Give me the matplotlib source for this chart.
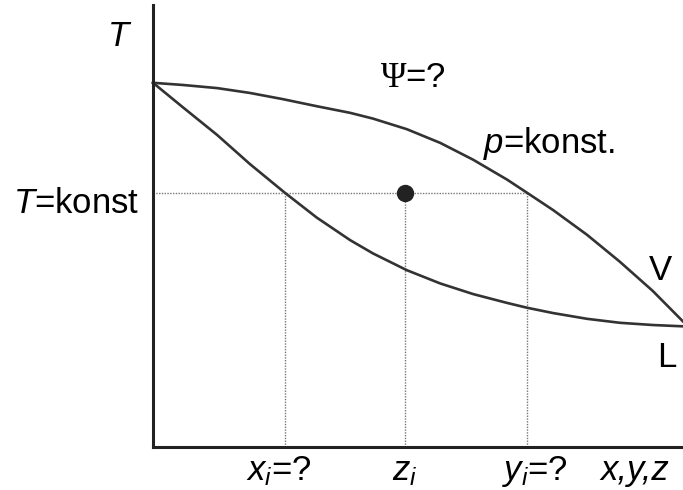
import matplotlib
matplotlib.use("Agg")
import matplotlib.pyplot as plt

# Phase diagram sketch (T over x,y,z at constant pressure)
plt.rcParams["font.family"] = "Liberation Sans"
plt.rcParams["mathtext.fontset"] = "custom"
plt.rcParams["mathtext.rm"] = "Liberation Serif"
plt.rcParams["mathtext.it"] = "Liberation Sans:italic"

# Dew point curve (V)
v_x = [0.0, 0.057, 0.121, 0.183, 0.245, 0.309, 0.372, 0.415, 0.479, 0.542,
       0.604, 0.668, 0.706, 0.755, 0.819, 0.881, 0.943, 1.0]
v_T = [0.824, 0.819, 0.812, 0.801, 0.787, 0.771, 0.756, 0.743, 0.719, 0.688,
       0.650, 0.605, 0.575, 0.536, 0.480, 0.419, 0.353, 0.284]

# Bubble point curve (L)
l_x = [0.0, 0.057, 0.121, 0.183, 0.249, 0.309, 0.372, 0.415, 0.479, 0.542,
       0.604, 0.668, 0.706, 0.755, 0.819, 0.881, 0.943, 1.0]
l_T = [0.824, 0.768, 0.706, 0.640, 0.575, 0.519, 0.468, 0.438, 0.400, 0.370,
       0.346, 0.326, 0.315, 0.303, 0.290, 0.281, 0.276, 0.273]

# Isotherm and compositions
T_konst = 0.575
x_i = 0.249
z_i = 0.475
y_i = 0.706

fig = plt.figure(figsize=(6.83, 4.90), dpi=100)
ax = fig.add_axes([153 / 683, 43 / 490, 530 / 683, 442 / 490])
ax.set_xlim(0, 1)
ax.set_ylim(0, 1)
for s in ["top", "right"]:
    ax.spines[s].set_visible(False)
for s in ["left", "bottom"]:
    ax.spines[s].set_linewidth(2.2)
    ax.spines[s].set_color("#222222")
ax.set_xticks([])
ax.set_yticks([])

dot_style = dict(color="#777777", lw=1.0, ls=(0, (1, 1)))
ax.plot([0, y_i], [T_konst, T_konst], **dot_style)
for xv in [x_i, z_i, y_i]:
    ax.plot([xv, xv], [0, T_konst], **dot_style)

curve_style = dict(color="#333333", lw=1.9, clip_on=False, solid_joinstyle="round")
ax.plot(v_x, v_T, **curve_style)
ax.plot(l_x, l_T, **curve_style)
ax.plot([z_i], [T_konst], "o", color="#222222", ms=11.5)

fs = 25
ax.text(-0.066, 0.907, "T", style="italic", fontsize=fs, ha="center", va="baseline", clip_on=False)
ax.text(-0.025, 0.529, r"$T$=konst", fontsize=fs, ha="right", va="baseline")
ax.text(0.491, 0.814, r"$\Psi$=?", fontsize=fs, ha="center", va="baseline")
ax.text(0.623, 0.665, r"$p$=konst.", fontsize=fs, ha="left", va="baseline")
ax.text(0.958, 0.378, "V", fontsize=fs, ha="center", va="baseline")
ax.text(0.970, 0.181, "L", fontsize=fs, ha="center", va="baseline")

ax.text(0.238, -0.075, r"$x_i$=?", fontsize=fs, ha="center", va="baseline")
ax.text(0.475, -0.075, r"$z_i$", fontsize=fs, ha="center", va="baseline")
ax.text(0.721, -0.075, r"$y_i$=?", fontsize=fs, ha="center", va="baseline")
ax.text(0.909, -0.075, "x,y,z", style="italic", fontsize=fs, ha="center", va="baseline")

fig.savefig("out.png", dpi=100)
